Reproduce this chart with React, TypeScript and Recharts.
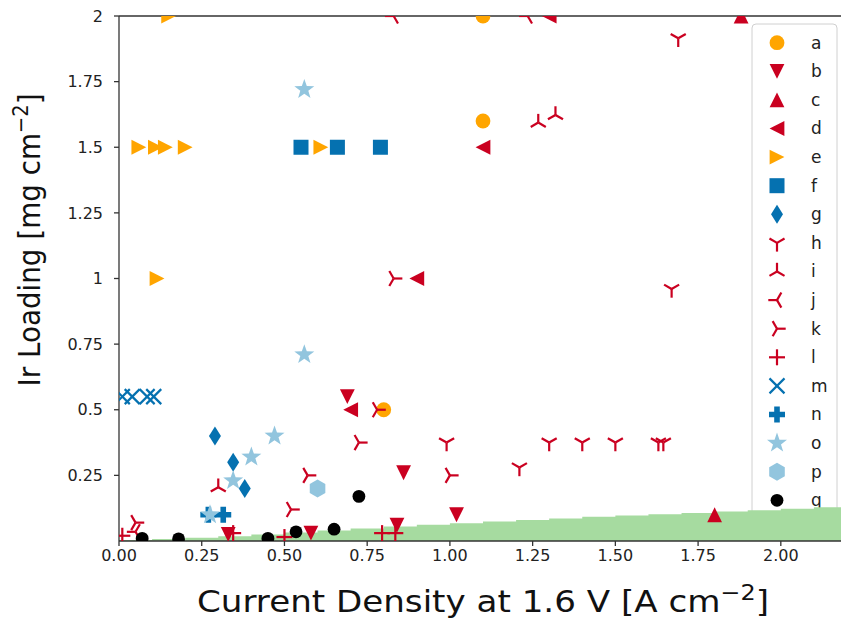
import React from 'react';
import { ComposedChart, Scatter, Area, XAxis, YAxis, ReferenceLine } from 'recharts';

const FONT = '"DejaVu Sans", sans-serif';
const RED = '#ca0020';
const ORANGE = '#ffa500';
const BLUE = '#0571b0';
const LIGHT = '#92c5de';
const GREEN = '#a6dba0';

// x ticks / y ticks
const xTicks = [0, 0.25, 0.5, 0.75, 1, 1.25, 1.5, 1.75, 2];
const yTicks = [0.25, 0.5, 0.75, 1, 1.25, 1.5, 1.75, 2];

// shaded region (upper edge)
const bandX = [0, 0.1, 0.2, 0.3, 0.4, 0.5, 0.6, 0.7, 0.8, 0.9, 1.0, 1.1, 1.2, 1.3, 1.4, 1.5, 1.6, 1.7, 1.8, 1.9, 2.0, 2.1, 2.2];
const bandY = [0.004, 0.008, 0.012, 0.018, 0.025, 0.032, 0.04, 0.048, 0.055, 0.062, 0.068, 0.074, 0.08, 0.086, 0.092, 0.097, 0.102, 0.107, 0.112, 0.117, 0.123, 0.129, 0.137];

// series values
const aX = [1.1, 1.1, 0.8];
const aY = [2.0, 1.6, 0.5];
const bX = [0.69, 0.86, 1.02, 0.84, 0.58, 0.33];
const bY = [0.55, 0.26, 0.1, 0.06, 0.03, 0.025];
const cX = [1.88, 1.8];
const cY = [2.0, 0.1];
const dX = [1.3, 1.1, 0.9, 0.7];
const dY = [2.0, 1.5, 1.0, 0.5];
const eX = [0.15, 0.06, 0.11, 0.14, 0.2, 0.61, 0.115];
const eY = [2.0, 1.5, 1.5, 1.5, 1.5, 1.5, 1.0];
const fX = [0.55, 0.66, 0.79];
const fY = [1.5, 1.5, 1.5];
const gX = [0.29, 0.345, 0.38];
const gY = [0.4, 0.3, 0.2];
const hX = [1.69, 0.99, 1.3, 1.4, 1.5, 1.63, 1.645, 1.21, 1.67];
const hY = [1.915, 0.375, 0.375, 0.375, 0.375, 0.375, 0.375, 0.28, 0.96];
const iX = [1.267, 1.319, 0.3];
const iY = [1.594, 1.623, 0.205];
const jX = [0.83, 1.235, 0.05];
const jY = [2.0, 2.0, 0.035];
const kX = [0.725, 0.57, 0.52, 0.78, 1.0, 0.83, 0.05];
const kY = [0.375, 0.25, 0.12, 0.5, 0.25, 1.0, 0.07];
const lX = [0.01, 0.345, 0.5, 0.795, 0.835];
const lY = [0.02, 0.03, 0.015, 0.03, 0.03];
const mX = [0.01, 0.04, 0.085, 0.105];
const mY = [0.55, 0.55, 0.55, 0.55];
const nX = [0.27, 0.315];
const nY = [0.1, 0.1];
const oX = [0.56, 0.56, 0.47, 0.4, 0.345, 0.275];
const oY = [1.72, 0.71, 0.4, 0.32, 0.23, 0.1];
const pX = [0.6];
const pY = [0.2];
const qX = [0.07, 0.18, 0.45, 0.535, 0.65, 0.725];
const qY = [0.01, 0.008, 0.01, 0.035, 0.045, 0.17];

const zip = (xs: number[], ys: number[]) => xs.map((x, i) => ({ x, y: ys[i] }));

const series = [
  { name: 'a', kind: 'circle', color: ORANGE, data: zip(aX, aY) },
  { name: 'b', kind: 'tdown', color: RED, data: zip(bX, bY) },
  { name: 'c', kind: 'tup', color: RED, data: zip(cX, cY) },
  { name: 'd', kind: 'tleft', color: RED, data: zip(dX, dY) },
  { name: 'e', kind: 'tright', color: ORANGE, data: zip(eX, eY) },
  { name: 'f', kind: 'square', color: BLUE, data: zip(fX, fY) },
  { name: 'g', kind: 'diamond', color: BLUE, data: zip(gX, gY) },
  { name: 'h', kind: 'tri_down', color: RED, data: zip(hX, hY) },
  { name: 'i', kind: 'tri_up', color: RED, data: zip(iX, iY) },
  { name: 'j', kind: 'tri_left', color: RED, data: zip(jX, jY) },
  { name: 'k', kind: 'tri_right', color: RED, data: zip(kX, kY) },
  { name: 'l', kind: 'plus', color: RED, data: zip(lX, lY) },
  { name: 'm', kind: 'x', color: BLUE, data: zip(mX, mY) },
  { name: 'n', kind: 'pfill', color: BLUE, data: zip(nX, nY) },
  { name: 'o', kind: 'star', color: LIGHT, data: zip(oX, oY) },
  { name: 'p', kind: 'hex', color: LIGHT, data: zip(pX, pY) },
  { name: 'q', kind: 'dot', color: '#000', data: zip(qX, qY) },
];

const bandData = zip(bandX, bandY);

const poly = (pts: number[][]) => pts.map((p) => p.join(',')).join(' ');

function Marker({ kind, color, cx, cy }: { kind: string; color: string; cx: number; cy: number }) {
  const s = 7.4;
  const L = 8.7;
  const tri = (angles: number[]) => (
    <g stroke={color} strokeWidth={2.2}>
      {angles.map((a) => (
        <line key={a} x1={cx} y1={cy} x2={cx + L * Math.cos((a * Math.PI) / 180)} y2={cy - L * Math.sin((a * Math.PI) / 180)} />
      ))}
    </g>
  );
  switch (kind) {
    case 'circle':
      return <circle cx={cx} cy={cy} r={s} fill={color} />;
    case 'dot':
      return <circle cx={cx} cy={cy} r={6.4} fill={color} />;
    case 'tdown':
      return <polygon points={poly([[cx - s, cy - s], [cx + s, cy - s], [cx, cy + s]])} fill={color} />;
    case 'tup':
      return <polygon points={poly([[cx - s, cy + s], [cx + s, cy + s], [cx, cy - s]])} fill={color} />;
    case 'tleft':
      return <polygon points={poly([[cx + s, cy - s], [cx + s, cy + s], [cx - s, cy]])} fill={color} />;
    case 'tright':
      return <polygon points={poly([[cx - s, cy - s], [cx - s, cy + s], [cx + s, cy]])} fill={color} />;
    case 'square':
      return <rect x={cx - 7.5} y={cy - 7.5} width={15} height={15} fill={color} />;
    case 'diamond':
      return <polygon points={poly([[cx, cy - 9.5], [cx + 6, cy], [cx, cy + 9.5], [cx - 6, cy]])} fill={color} />;
    case 'tri_down':
      return tri([270, 150, 30]);
    case 'tri_up':
      return tri([90, 210, 330]);
    case 'tri_left':
      return tri([180, 60, 300]);
    case 'tri_right':
      return tri([0, 120, 240]);
    case 'plus':
      return (
        <g stroke={color} strokeWidth={2.2}>
          <line x1={cx - 8} y1={cy} x2={cx + 8} y2={cy} />
          <line x1={cx} y1={cy - 8} x2={cx} y2={cy + 8} />
        </g>
      );
    case 'x':
      return (
        <g stroke={color} strokeWidth={2.2}>
          <line x1={cx - 7.5} y1={cy - 7.5} x2={cx + 7.5} y2={cy + 7.5} />
          <line x1={cx - 7.5} y1={cy + 7.5} x2={cx + 7.5} y2={cy - 7.5} />
        </g>
      );
    case 'pfill': {
      const a = 8;
      const b = 2.8;
      return (
        <polygon
          points={poly([
            [cx - b, cy - a], [cx + b, cy - a], [cx + b, cy - b], [cx + a, cy - b], [cx + a, cy + b], [cx + b, cy + b],
            [cx + b, cy + a], [cx - b, cy + a], [cx - b, cy + b], [cx - a, cy + b], [cx - a, cy - b], [cx - b, cy - b],
          ])}
          fill={color}
        />
      );
    }
    case 'star': {
      const pts: number[][] = [];
      for (let i = 0; i < 10; i++) {
        const r = i % 2 === 0 ? 10.5 : 4.2;
        const ang = -Math.PI / 2 + (i * Math.PI) / 5;
        pts.push([cx + r * Math.cos(ang), cy + r * Math.sin(ang)]);
      }
      return <polygon points={poly(pts)} fill={color} />;
    }
    case 'hex': {
      const pts: number[][] = [];
      for (let i = 0; i < 6; i++) {
        const ang = -Math.PI / 2 + (i * Math.PI) / 3;
        pts.push([cx + 9 * Math.cos(ang), cy + 9 * Math.sin(ang)]);
      }
      return <polygon points={poly(pts)} fill={color} />;
    }
    default:
      return null;
  }
}

// axes box, markers get cut at its edges like matplotlib does
const BOX = { left: 119, top: 16, width: 728, height: 525 };

const ClippedMarker = ({ kind, color, cx, cy }: { kind: string; color: string; cx: number; cy: number }) => (
  <svg x={BOX.left} y={BOX.top} width={BOX.width} height={BOX.height} overflow="hidden">
    <g transform={`translate(${-BOX.left} ${-BOX.top})`}>
      <Marker kind={kind} color={color} cx={cx} cy={cy} />
    </g>
  </svg>
);

const LegendBox = () => (
  <g>
    <rect x={752} y={24} width={85} height={493} rx={4} fill="#fff" fillOpacity={0.8} stroke="#d0d0d0" />
    {series.map((s, i) => (
      <g key={s.name}>
        <Marker kind={s.kind} color={s.color} cx={777} cy={42.7 + i * 28.6} />
        <text x={811} y={42.7 + i * 28.6} dy="0.35em" fontSize={17} fontFamily={FONT} fill="#222">
          {s.name}
        </text>
      </g>
    ))}
  </g>
);

const XLabel = () => (
  <text x={483} y={612} textAnchor="middle" fontSize={30} fontFamily={FONT} fill="#111" textLength={572} lengthAdjust="spacingAndGlyphs">
    <tspan>Current Density at 1.6 V [A cm</tspan>
    <tspan dy={-12} fontSize={21}>−2</tspan>
    <tspan dy={12}>]</tspan>
  </text>
);

const YLabel = () => (
  <text
    x={40}
    y={240}
    transform="rotate(-90 40 240)"
    textAnchor="middle"
    fontSize={30}
    fontFamily={FONT}
    fill="#111"
    textLength={293}
    lengthAdjust="spacingAndGlyphs"
  >
    <tspan>Ir Loading [mg cm</tspan>
    <tspan dy={-12} fontSize={21}>−2</tspan>
    <tspan dy={12}>]</tspan>
  </text>
);

export default function App() {
  return (
    <div style={{ position: 'fixed', left: 0, top: 0, width: 841, height: 618, overflow: 'hidden', background: '#fff' }}>
      <ComposedChart width={847} height={618} data={bandData} margin={{ top: 16, right: 0, bottom: 0, left: 0 }}>
        <XAxis
          type="number"
          dataKey="x"
          domain={[0, 2.2]}
          ticks={xTicks}
          tickFormatter={(v: number) => v.toFixed(2)}
          height={77}
          stroke="#333"
          strokeWidth={1.3}
          tickSize={5}
          tickMargin={4}
          tick={{ fontSize: 16, fill: '#222', fontFamily: FONT }}
          allowDataOverflow
        />
        <YAxis
          type="number"
          dataKey="y"
          domain={[0, 2]}
          ticks={yTicks}
          width={119}
          stroke="#333"
          strokeWidth={1.3}
          tickSize={5}
          tickMargin={11}
          tick={{ fontSize: 16, fill: '#222', fontFamily: FONT }}
          allowDataOverflow
        />
        <Area type="stepAfter" dataKey="y" fill={GREEN} fillOpacity={1} stroke="none" isAnimationActive={false} />
        {series.map((s) => (
          <Scatter
            key={s.name}
            name={s.name}
            data={s.data}
            dataKey="y"
            isAnimationActive={false}
            shape={(p: any) => <ClippedMarker kind={s.kind} color={s.color} cx={p.cx} cy={p.cy} />}
          />
        ))}
        <ReferenceLine y={2} stroke="#333" strokeWidth={1.3} ifOverflow="visible" />
        <LegendBox />
        <XLabel />
        <YLabel />
      </ComposedChart>
    </div>
  );
}
